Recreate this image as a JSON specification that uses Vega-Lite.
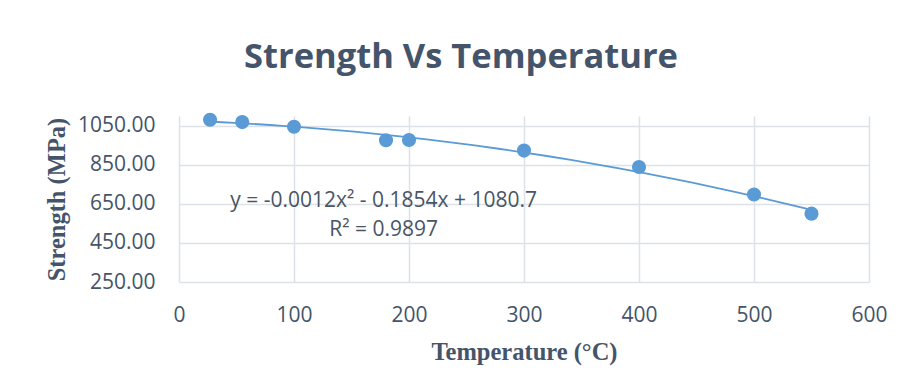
{
  "$schema": "https://vega.github.io/schema/vega-lite/v6.json",
  "width": 690,
  "height": 166,
  "autosize": {"type": "none"},
  "padding": {"left": 179, "top": 116, "right": 37, "bottom": 107},
  "background": "white",
  "title": {
    "text": "Strength Vs Temperature",
    "font": "Open Sans",
    "fontSize": 34.5,
    "fontWeight": "bold",
    "color": "#44546A",
    "anchor": "middle",
    "frame": "group",
    "dx": -63,
    "offset": 37
  },
  "datasets": {
    "points": [
      {"temp": 27, "strength": 1081},
      {"temp": 55, "strength": 1069},
      {"temp": 100, "strength": 1045},
      {"temp": 180, "strength": 976},
      {"temp": 200, "strength": 977},
      {"temp": 300, "strength": 923},
      {"temp": 400, "strength": 839},
      {"temp": 500, "strength": 698},
      {"temp": 550, "strength": 600}
    ],
    "labels": [
      {"temp": 178, "strength": 666, "label": "y = -0.0012x² - 0.1854x + 1080.7"},
      {"temp": 178, "strength": 517, "label": "R² = 0.9897"}
    ]
  },
  "config": {
    "view": {"stroke": null},
    "axis": {
      "grid": true,
      "gridColor": "#DDE1E8",
      "gridWidth": 1.5,
      "domain": false,
      "ticks": false,
      "labelFlush": false,
      "labelFont": "Open Sans",
      "labelFontSize": 21,
      "labelColor": "#44546A",
      "titleFont": "Liberation Serif",
      "titleFontWeight": "bold",
      "titleFontSize": 24.5,
      "titleColor": "#44546A"
    }
  },
  "layer": [
    {
      "data": {"name": "points"},
      "transform": [
        {"regression": "strength", "on": "temp", "method": "poly", "order": 2}
      ],
      "mark": {"type": "line", "color": "#5B9BD5", "strokeWidth": 1.8},
      "encoding": {
        "x": {"field": "temp", "type": "quantitative"},
        "y": {"field": "strength", "type": "quantitative"}
      }
    },
    {
      "data": {"name": "points"},
      "mark": {"type": "circle", "color": "#5B9BD5", "opacity": 1, "size": 200},
      "encoding": {
        "x": {
          "field": "temp",
          "type": "quantitative",
          "scale": {"domain": [0, 600], "nice": false},
          "axis": {
            "values": [0, 100, 200, 300, 400, 500, 600],
            "title": "Temperature (°C)",
            "labelPadding": 22,
            "titlePadding": 15
          }
        },
        "y": {
          "field": "strength",
          "type": "quantitative",
          "scale": {"domain": [250, 1100], "nice": false, "zero": false},
          "axis": {
            "values": [250, 450, 650, 850, 1050],
            "format": ".2f",
            "title": "Strength (MPa)",
            "labelPadding": 24,
            "titlePadding": 8
          }
        }
      }
    },
    {
      "data": {"name": "labels"},
      "mark": {"type": "text", "font": "Open Sans", "fontSize": 21, "color": "#495565", "align": "center", "baseline": "middle"},
      "encoding": {
        "x": {"field": "temp", "type": "quantitative"},
        "y": {"field": "strength", "type": "quantitative"},
        "text": {"field": "label"}
      }
    }
  ]
}
